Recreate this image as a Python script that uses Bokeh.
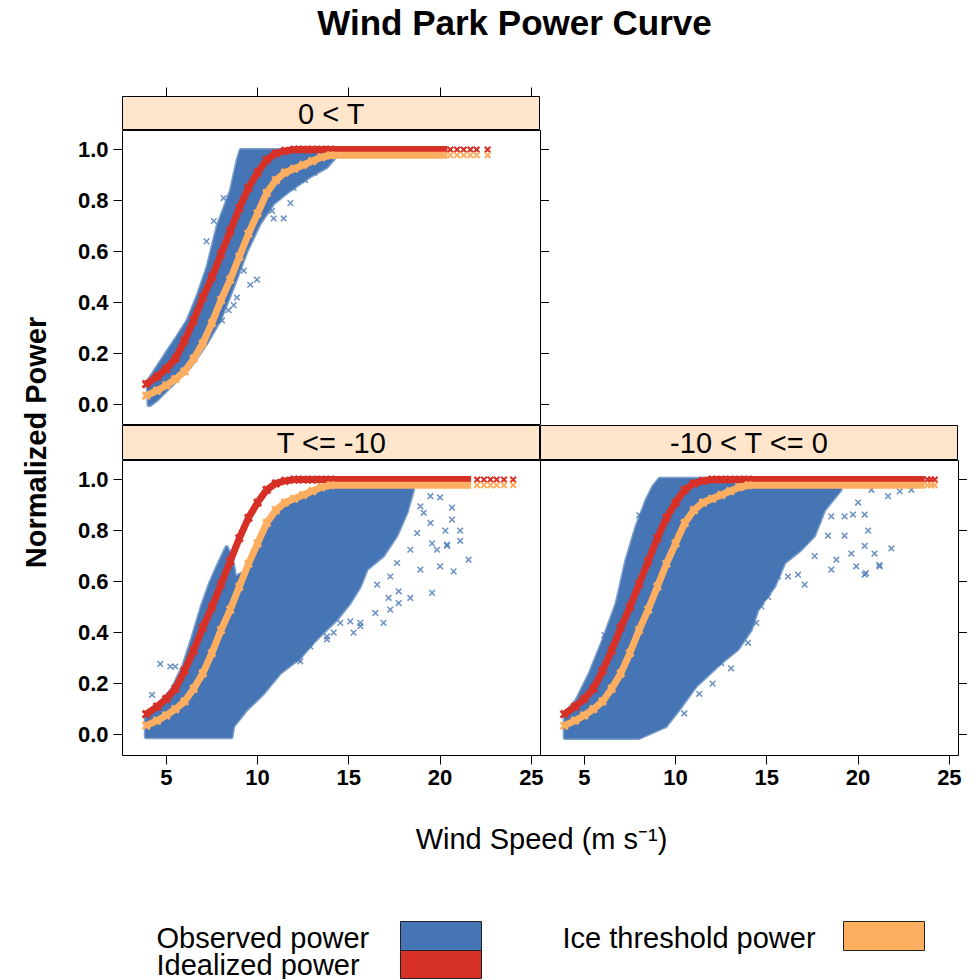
from bokeh.plotting import figure
from bokeh.models import (Range1d, LinearAxis, FixedTicker, Label, Span,
                          PrintfTickFormatter, CustomJSTickFormatter,
                          CustomLabelingPolicy)
from bokeh.layouts import column, row
from bokeh.embed import file_html
from bokeh.resources import INLINE

FONT = "Liberation Sans"
BLUE = "#4575B4"
RED = "#D73027"
ORANGE = "#FDAE61"
STRIP = "#FFE5CC"

# ---------------- data ----------------
x_ticks = [5, 10, 15, 20, 25]
y_ticks = [0.0, 0.2, 0.4, 0.6, 0.8, 1.0]
XR = (2.6, 25.5)
YR = (-0.082, 1.075)

panel_names = ["0 < T", "T <= -10", "-10 < T <= 0"]

curve_ws = [3.9, 4.5, 5.0, 5.5, 6.0, 6.5, 7.0, 7.5, 8.0, 8.5, 9.0, 9.5, 10.0,
            10.5, 11.0, 11.5, 12.0, 12.5, 13.0, 13.5, 14.0]
ideal_p = [0.08, 0.11, 0.14, 0.18, 0.25, 0.33, 0.42, 0.50, 0.59, 0.68, 0.77,
           0.85, 0.91, 0.96, 0.985, 0.995, 1.0, 1.0, 1.0, 1.0, 1.0]
ice_p = [0.035, 0.055, 0.075, 0.10, 0.13, 0.18, 0.24, 0.32, 0.41, 0.49, 0.58,
         0.67, 0.75, 0.83, 0.88, 0.91, 0.925, 0.94, 0.955, 0.97, 0.978]

# end of the continuous flat part and the sparse markers after it
line_end_a, tail_a = 20.4, [20.56, 20.93, 21.29, 21.66, 22.0, 22.6]
line_end_b, tail_b = 21.7, [22.03, 22.4, 22.76, 23.1, 23.5, 24.0]
line_end_c, tail_c = 23.65, [23.8, 24.0, 24.2]

# outline of the dense observed cloud, panel "0 < T"
obs_a_ws = [4.0, 3.94, 4.5, 5.04, 5.6, 6.13, 6.7, 7.23, 7.78, 8.51, 8.87, 9.05,
            13.8, 14.35, 13.8, 12.8, 11.8, 10.88, 10.15, 9.42, 8.69, 7.96,
            7.23, 6.32, 5.4, 4.49, 4.12]
obs_a_p = [-0.005, 0.09, 0.15, 0.21, 0.27, 0.33, 0.43, 0.54, 0.70, 0.84, 0.957,
           1.0, 1.0, 0.975, 0.93, 0.89, 0.84, 0.787, 0.71, 0.60, 0.46, 0.33,
           0.24, 0.146, 0.081, 0.016, -0.004]
out_a_ws = [8.14, 9.6, 9.97, 8.87, 8.69, 8.41, 8.05, 11.43, 10.88, 11.8, 11.97,
            13.44, 14.53, 10.79, 9.24, 12.6, 13.1, 7.6, 7.2]
out_a_p = [0.81, 0.47, 0.49, 0.42, 0.39, 0.37, 0.33, 0.73, 0.73, 0.79, 0.85,
           0.93, 0.976, 0.76, 0.525, 0.88, 0.91, 0.72, 0.64]

# panel "T <= -10"
obs_b_ws = [3.85, 3.85, 4.6, 5.3, 5.9, 6.4, 6.9, 7.4, 7.9, 8.3, 8.6, 8.8, 9.3,
            9.8, 10.3, 10.9, 11.8, 12.7, 13.5, 18.5, 18.55, 18.19, 17.64, 16.9,
            16.0, 15.63, 15.08, 14.35, 13.62, 13.07, 12.34, 11.25, 10.33, 9.42,
            8.69, 8.6]
obs_b_p = [-0.012, 0.07, 0.12, 0.18, 0.27, 0.38, 0.50, 0.60, 0.68, 0.74, 0.70,
           0.62, 0.64, 0.71, 0.79, 0.86, 0.91, 0.94, 0.965, 0.975, 0.96, 0.87,
           0.78, 0.70, 0.647, 0.58, 0.516, 0.45, 0.40, 0.36, 0.30, 0.24, 0.16,
           0.097, 0.031, -0.012]
out_b_ws = [19.47, 20.0, 20.65, 20.65, 21.1, 21.1, 21.56, 20.74, 20.0, 20.38,
            19.56, 18.37, 17.73, 17.27, 16.9, 15.63, 15.08, 13.8, 12.25, 18.92,
            20.29, 19.47, 4.67, 5.22, 5.49, 4.22, 7.96, 8.33,
            16.55, 17.18, 17.73, 16.45, 15.63, 15.26, 14.53, 14.17, 13.8, 12.89,
            12.34, 19.1, 18.92, 19.56, 19.83, 20.38, 18.74, 18.37, 17.64, 17.27]
out_b_p = [0.935, 0.93, 0.89, 0.843, 0.80, 0.76, 0.686, 0.64, 0.66, 0.74, 0.556,
           0.536, 0.562, 0.49, 0.438, 0.438, 0.444, 0.385, 0.294, 0.647, 0.80,
           0.83, 0.277, 0.267, 0.267, 0.156, 0.018, 0.018,
           0.588, 0.536, 0.516, 0.477, 0.425, 0.40, 0.438, 0.40, 0.373, 0.346,
           0.287, 0.87, 0.895, 0.75, 0.725, 0.745, 0.79, 0.725, 0.673, 0.62]

# panel "-10 < T <= 0"
obs_c_ws = [3.9, 3.9, 4.55, 5.27, 6.0, 6.74, 7.28, 7.83, 8.38, 8.75, 9.1, 12.0,
            13.8, 19.0, 19.08, 18.17, 17.62, 16.89, 15.98, 15.43, 14.52, 14.15,
            13.42, 12.5, 11.12, 10.2, 9.48, 8.01]
obs_c_p = [-0.015, 0.083, 0.136, 0.24, 0.37, 0.515, 0.685, 0.816, 0.92, 0.973,
           1.005, 1.005, 0.975, 0.975, 0.96, 0.88, 0.78, 0.725, 0.673, 0.58,
           0.49, 0.41, 0.333, 0.28, 0.188, 0.097, 0.031, -0.015]
out_c_ws = [18.53, 19.26, 19.72, 20.36, 20.55, 20.36, 20.9, 21.82, 21.18, 20.36,
            19.9, 19.63, 18.53, 18.81, 17.07, 16.71, 16.16, 21.64, 22.28, 21.16,
            20.43, 8.01, 7.47, 6.1, 13.04, 12.03, 11.3, 10.48,
            16.16, 15.61, 15.07, 14.70, 14.42, 13.97, 12.5, 17.81, 18.35, 19.26,
            17.62, 20.0, 20.73, 22.92]
out_c_p = [0.856, 0.856, 0.863, 0.863, 0.80, 0.74, 0.71, 0.73, 0.66, 0.627,
           0.66, 0.71, 0.647, 0.686, 0.588, 0.627, 0.62, 0.935, 0.954, 0.665,
           0.633, 0.86, 0.685, 0.39, 0.26, 0.20, 0.16, 0.083,
           0.70, 0.62, 0.54, 0.503, 0.438, 0.36, 0.28, 0.843, 0.78, 0.78,
           0.70, 0.91, 0.96, 0.96]

legend_labels = ["Observed power", "Idealized power", "Ice threshold power"]

# ---------------- helpers ----------------
def base_fig(fw, fh, xr, yr, **kw):
    f = figure(frame_width=fw, frame_height=fh, x_range=xr, y_range=yr,
               x_axis_location=None, y_axis_location=None,
               output_backend="svg", toolbar_location=None,
               background_fill_color="white", border_fill_color="white",
               outline_line_color=None, min_border=0, **kw)
    f.grid.visible = False
    return f


NO_LABELS = CustomLabelingPolicy(
    code="for (const i of indices) { indices.unset(i) } return indices")


def style_axis(ax, labels=True):
    ax.axis_line_color = None
    ax.major_tick_line_color = "black"
    ax.major_tick_out = 9
    ax.major_tick_in = 0
    ax.minor_tick_line_color = None
    ax.major_label_text_font = FONT
    ax.major_label_text_font_style = "bold"
    ax.major_label_text_color = "black"
    if labels:
        ax.major_label_text_font_size = "22px"
        ax.major_label_standoff = 5
    else:
        ax.major_label_text_font_size = "0px"
        ax.major_label_standoff = 0
        ax.major_label_policy = NO_LABELS
    return ax


def y_axes(f):
    la = LinearAxis(ticker=FixedTicker(ticks=y_ticks),
                    formatter=PrintfTickFormatter(format="%.1f"))
    f.add_layout(style_axis(la, True), "left")


def y_axis_right(f):
    ra = LinearAxis(ticker=FixedTicker(ticks=y_ticks))
    f.add_layout(style_axis(ra, False), "right")


def draw_panel(f, pws, pp, ows, op, line_end, tail, rn="default"):
    f.patch(pws, pp, fill_color=BLUE, line_color=BLUE, line_width=3,
            line_alpha=0.7, x_range_name=rn)
    f.scatter(ows, op, marker="x", size=8, line_color=BLUE, line_width=1.5,
              line_alpha=0.8, x_range_name=rn)
    for curve, col in ((ideal_p, RED), (ice_p, ORANGE)):
        xs = curve_ws + [line_end]
        ys = curve + [curve[-1]]
        f.line(xs, ys, line_color=col, line_width=7, x_range_name=rn)
        f.scatter(curve_ws, curve, marker="x", size=10, line_color=col,
                  line_width=3, x_range_name=rn)
        f.scatter(tail, [curve[-1]] * len(tail), marker="x", size=8,
                  line_color=col, line_width=2, x_range_name=rn)


def strip_fig(text, left, h, top_axis=False):
    s = base_fig(418, h, Range1d(*XR), Range1d(0, 1),
                 min_border_left=left, min_border_top=10 if top_axis else 0)
    s.background_fill_color = STRIP
    s.outline_line_color = "black"
    s.outline_line_width = 1
    s.add_layout(Label(x=(XR[0] + XR[1]) / 2, y=0.5, text=text,
                       text_align="center", text_baseline="middle",
                       text_font=FONT, text_font_size="29px",
                       text_color="black"))
    if top_axis:
        ta = LinearAxis(ticker=FixedTicker(ticks=x_ticks))
        s.add_layout(style_axis(ta, False), "above")
    return s


YLAB_W = 60
TOTAL_W = YLAB_W + 62 + 836 + 9

# ---------------- title ----------------
TH = 86
title_fig = base_fig(TOTAL_W, TH, Range1d(0, TOTAL_W), Range1d(0, TH))
title_fig.add_layout(Label(x=514, y=TH - 22, text="Wind Park Power Curve",
                           text_align="center", text_baseline="middle",
                           text_font=FONT, text_font_style="bold",
                           text_font_size="35px", text_color="black"))

# ---------------- top row ----------------
strip1 = strip_fig(panel_names[0], 62, 34, top_axis=True)

p1 = base_fig(418, 295, Range1d(*XR), Range1d(*YR),
              min_border_left=62, min_border_right=9)
p1.outline_line_color = "black"
y_axes(p1)
y_axis_right(p1)
draw_panel(p1, obs_a_ws, obs_a_p, out_a_ws, out_a_p, line_end_a, tail_a)

# ---------------- bottom row ----------------
strip2 = strip_fig(panel_names[1], 62, 35)
strip3 = strip_fig(panel_names[2], 0, 35)

W = XR[1] - XR[0]
pb = base_fig(836, 295, Range1d(XR[0], XR[0] + 2 * W), Range1d(*YR),
              min_border_left=62, min_border_right=9, min_border_bottom=40)
pb.extra_x_ranges = {"right": Range1d(XR[1] - 2 * W, XR[1])}
pb.outline_line_color = "black"
y_axes(pb)
y_axis_right(pb)
bx = LinearAxis(ticker=FixedTicker(ticks=x_ticks + [t + W for t in x_ticks]),
                formatter=CustomJSTickFormatter(
                    args=dict(w=W, b=XR[1]),
                    code="const v = tick > b ? tick - w : tick; return v.toFixed(0);"))
pb.add_layout(style_axis(bx, True), "below")
pb.add_layout(Span(location=XR[1], dimension="height", line_color="black",
                   line_width=1))
draw_panel(pb, obs_b_ws, obs_b_p, out_b_ws, out_b_p, line_end_b, tail_b)
draw_panel(pb, obs_c_ws, obs_c_p, out_c_ws, out_c_p, line_end_c, tail_c,
           rn="right")

grid_col = column(strip1, p1, row(strip2, strip3), pb)

# ---------------- y label ----------------
YH = 44 + 295 + 35 + 335
ylab_fig = base_fig(YLAB_W, YH, Range1d(0, YLAB_W), Range1d(0, YH))
ylab_fig.add_layout(Label(x=35, y=YH - 356, text="Normalized Power",
                          angle=90, angle_units="deg",
                          text_align="center", text_baseline="middle",
                          text_font=FONT, text_font_style="bold",
                          text_font_size="29px", text_color="black"))

# ---------------- x label ----------------
XH = 70
xlab_fig = base_fig(TOTAL_W, XH, Range1d(0, TOTAL_W), Range1d(0, XH))
xlab_fig.add_layout(Label(x=541, y=XH - 43, text="Wind Speed (m s\u207b\u00b9)",
                          text_align="center", text_baseline="middle",
                          text_font=FONT, text_font_size="29px",
                          text_color="black"))

# ---------------- legend ----------------
LH = 114
leg = base_fig(TOTAL_W, LH, Range1d(0, TOTAL_W), Range1d(0, LH))
leg.quad(left=[400, 400, 843], right=[481, 481, 924], top=[58, 29, 58],
         bottom=[29, 1, 29], fill_color=[BLUE, RED, ORANGE],
         line_color="#222222", line_width=1)
for txt, x, y in ((legend_labels[0], 156, 42), (legend_labels[1], 156, 15),
                  (legend_labels[2], 562, 42)):
    leg.add_layout(Label(x=x, y=y, text=txt, text_align="left",
                         text_baseline="middle", text_font=FONT,
                         text_font_size="29px", text_color="black"))

layout = column(title_fig, row(ylab_fig, grid_col), xlab_fig, leg)

open("out.html", "w").write(file_html(layout, INLINE))
